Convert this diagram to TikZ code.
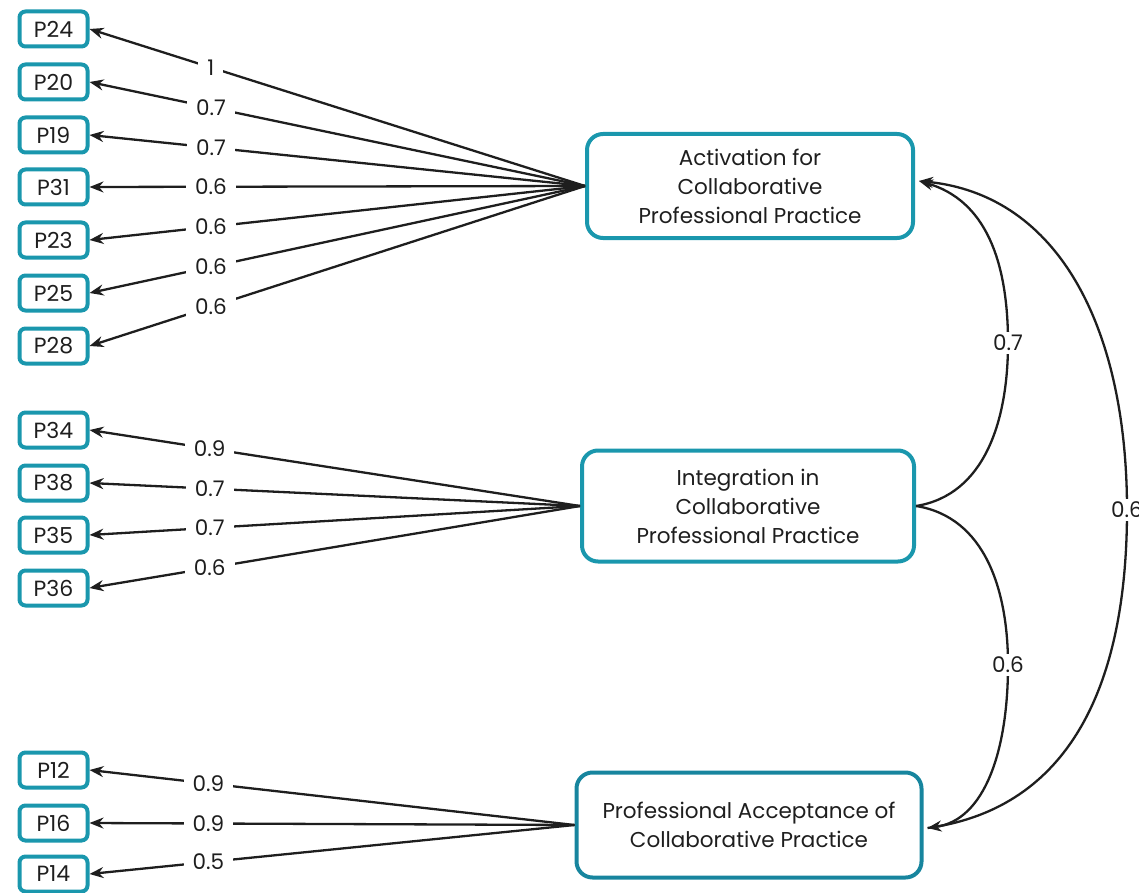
\documentclass[tikz,border=0pt]{standalone}
\usepackage{fontspec}
\setmainfont{Poppins}
\usetikzlibrary{arrows.meta}
\definecolor{teal1}{HTML}{1A97AD}
\definecolor{teal2}{HTML}{17859E}
\definecolor{ink}{HTML}{1E1E1E}
\begin{document}
\begin{tikzpicture}[x=1pt,y=-1pt,
  item/.style={draw=teal1,line width=4pt,rounded corners=6pt,minimum width=68pt,minimum height=35pt,inner sep=0pt,text=ink,font=\fontsize{22}{22}\selectfont},
  factor/.style={draw=teal1,line width=4pt,rounded corners=16pt,inner sep=0pt,text=ink,align=center,font=\fontsize{21.5}{29}\selectfont},
  load/.style={line width=2.3pt,draw=ink,-{Stealth[length=14pt,width=11pt]}},
  val/.style={fill=white,inner xsep=9pt,inner ysep=3pt,text=ink,font=\fontsize{21.5}{21.5}\selectfont},
  lbl/.style={val,pos=0.755},
  corr/.style={line width=2.3pt,draw=ink,-{Stealth[length=14pt,width=11pt]}}
]
\useasboundingbox (0,0) rectangle (1139,893);

% observed items
\foreach \n/\y in {P24/29,P20/82,P19/135,P31/187,P23/240,P25/293,P28/346,
                   P34/430,P38/483,P35/535,P36/588,P12/770,P16/823,P14/874}
  \node[item] (\n) at (53.5,\y) {\n};

% latent factors
\node[factor,minimum width=326pt,minimum height=104pt] (act) at (750,186)
  {Activation for\\Collaborative\\Professional Practice};
\node[factor,minimum width=332pt,minimum height=111pt] (int) at (748,506)
  {Integration in\\Collaborative\\Professional Practice};
\node[factor,draw=teal2,minimum width=345pt,minimum height=105pt] (acc) at (749,825)
  {Professional Acceptance of\\Collaborative Practice};

% factor loadings
\foreach \n/\v in {P24/1,P20/0.7,P19/0.7,P31/0.6,P23/0.6,P25/0.6,P28/0.6}
  \draw[load] (act.west) -- node[lbl] {\v} (\n.east);
\foreach \n/\v in {P34/0.9,P38/0.7,P35/0.7,P36/0.6}
  \draw[load] (int.west) -- node[lbl] {\v} (\n.east);
\foreach \n/\v in {P12/0.9,P16/0.9,P14/0.5}
  \draw[load] (acc.west) -- node[lbl] {\v} (\n.east);

% factor correlations
\coordinate (actE) at ([xshift=4pt,yshift=5pt]act.east);
\coordinate (accE) at ([xshift=4pt,yshift=-3pt]acc.east);
\draw[corr] (int.east) .. controls (985,495) and (1008,420) .. (1008,343)
  node[val,inner xsep=3pt] {0.7}
  .. controls (1008,260) and (985,200) .. (actE);
\draw[corr] (int.east) .. controls (985,517) and (1008,590) .. (1008,665)
  node[val,inner xsep=3pt] {0.6}
  .. controls (1008,750) and (985,820) .. (accE);
\draw[corr] (accE) .. controls (1060,810) and (1127,700) .. (1127,510)
  node[val,inner xsep=3pt] {0.6}
  .. controls (1127,330) and (1060,195) .. (actE);
\end{tikzpicture}
\end{document}
